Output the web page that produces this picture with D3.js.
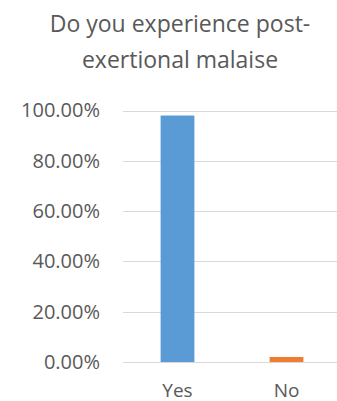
<!DOCTYPE html>
<html>
<head>
<meta charset="utf-8">
<script src="https://cdn.jsdelivr.net/npm/d3@7"></script>
<style>
  html, body { margin: 0; padding: 0; background: #fff; }
  svg { display: block; }
  text { font-family: "Open Sans", sans-serif; fill: #595959; }
</style>
</head>
<body>
<script>
// Survey answers and their share of respondents
const categories = ["Yes", "No"];
const shares = [0.98, 0.02];
const barColors = ["#5b9bd5", "#ed7d31"];
const tickValues = [0, 0.2, 0.4, 0.6, 0.8, 1.0];
const titleLines = ["Do you experience post-", "exertional malaise"];

const W = 337, H = 401;
const svg = d3.select("body").append("svg").attr("width", W).attr("height", H);

const x = d3.scaleBand().domain(categories).range([123, 341]).paddingInner(0.69).paddingOuter(0.345);
const y = d3.scaleLinear().domain([0, 1]).range([362, 110.5]);

// Title
svg.append("g").selectAll("text").data(titleLines).join("text")
  .attr("x", 180).attr("y", (d, i) => 32 + i * 36)
  .attr("text-anchor", "middle")
  .style("font-size", "23px")
  .text(d => d);

// Horizontal gridlines
const yAxis = d3.axisLeft(y).tickValues(tickValues)
  .tickFormat(d => (d * 100).toFixed(2) + "%")
  .tickSize(-(W - 123)).tickPadding(23);
const gy = svg.append("g").attr("transform", "translate(123,0)").call(yAxis);
gy.select(".domain").remove();
gy.selectAll(".tick line").attr("stroke", "#d9d9d9").attr("stroke-width", 1).attr("shape-rendering", "crispEdges");
gy.selectAll(".tick text").style("font-size", "20px").attr("fill", "#595959");

// Bars
svg.append("g").selectAll("rect").data(categories).join("rect")
  .attr("x", d => x(d))
  .attr("width", x.bandwidth())
  .attr("y", (d, i) => y(shares[i]))
  .attr("height", (d, i) => y(0) - y(shares[i]))
  .attr("fill", (d, i) => barColors[i]);

// Category labels
const xAxis = d3.axisBottom(x).tickSize(0).tickPadding(22);
const gx = svg.append("g").attr("transform", "translate(0,362)").call(xAxis);
gx.select(".domain").remove();
gx.selectAll(".tick text").style("font-size", "19px").attr("fill", "#595959");
</script>
</body>
</html>
